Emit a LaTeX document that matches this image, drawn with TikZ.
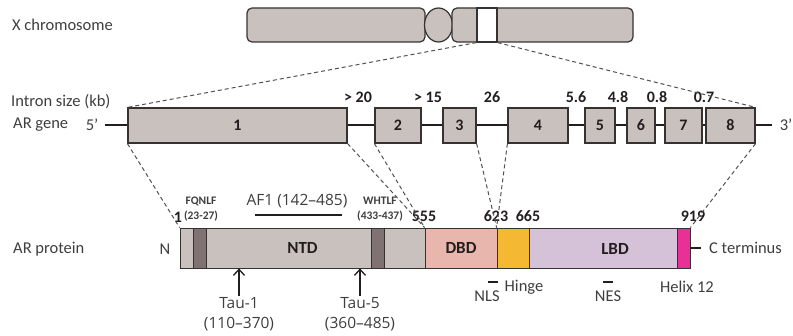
\documentclass[tikz,border=0pt]{standalone}
\usepackage{fontspec}
\setmainfont{Carlito}
\newfontfamily\taufont{Open Sans}
\usepackage{tikz}
\usetikzlibrary{shapes.geometric, arrows.meta, positioning, calc}
\definecolor{chromgrey}{RGB}{201,193,189}
\definecolor{bandgrey}{RGB}{128,114,114}
\definecolor{dbdpink}{RGB}{232,182,172}
\definecolor{hingeorange}{RGB}{245,184,50}
\definecolor{lbdlilac}{RGB}{214,194,216}
\definecolor{helixpink}{RGB}{232,48,150}
\definecolor{txtgrey}{RGB}{62,62,62}
\definecolor{numdark}{RGB}{35,30,30}
\definecolor{edgedark}{RGB}{55,50,50}
\tikzset{
  chrom/.style={rectangle, draw=edgedark, fill=chromgrey,
    rounded corners=5pt, line width=1.2pt, minimum height=34pt, inner sep=0pt},
  exon/.style={rectangle, draw=edgedark, fill=chromgrey,
    line width=1.2pt, minimum height=35pt, inner sep=0pt,
    font=\fontsize{16}{18}\selectfont\bfseries, text=numdark},
  protbox/.style={rectangle, draw=edgedark, line width=0.8pt,
    minimum height=40pt, inner sep=0pt,
    font=\fontsize{17}{19}\selectfont\bfseries, text=numdark},
  lbl/.style={font=\fontsize{16.5}{19}\selectfont, text=txtgrey, inner sep=1pt},
  taulbl/.style={font=\taufont\fontsize{15.5}{20}\selectfont, text=txtgrey,
    align=center, inner sep=1pt},
  num/.style={font=\fontsize{16}{18}\selectfont\bfseries, text=numdark, inner sep=1pt},
  motif/.style={font=\fontsize{11.5}{14.5}\selectfont\bfseries, text=txtgrey,
    align=center, inner sep=1pt},
  link/.style={line width=1pt, color=txtgrey!90, dash pattern=on 4pt off 3pt},
  tauarrow/.style={-{Straight Barb[length=6pt, width=11pt]}, line width=1.3pt, color=numdark},
  markbar/.style={line width=1.6pt, color=numdark}
}
\begin{document}
\begin{tikzpicture}[x=1pt, y=-1pt]
  \useasboundingbox (0,0) rectangle (793,336);

  % Row labels
  \node[lbl, anchor=west] (lchrom) at (11,25) {X chromosome};
  \node[lbl, anchor=west] (lintron) at (10,102) {Intron size (kb)};
  \node[lbl, anchor=west] (lgene) at (12,125) {AR gene};
  \node[lbl, anchor=west] (lprot) at (12,249) {AR protein};

  % X chromosome
  \node[chrom, minimum width=178pt] (parm) at (336,25) {};
  \node[ellipse, draw=edgedark, fill=chromgrey, line width=1.2pt,
    minimum width=28pt, minimum height=34pt, inner sep=0pt] (centro) at (438.5,25) {};
  \node[chrom, minimum width=181pt] (qarm) at (542.5,25) {};
  \node[rectangle, draw=edgedark, fill=white, line width=1.2pt,
    minimum width=20pt, minimum height=34pt, inner sep=0pt] (band) at (487,25) {};

  % AR gene
  \coordinate (g5) at (105,125.5);
  \coordinate (g3) at (772,125.5);
  \draw[line width=2pt, color=numdark] (g5) -- (g3);
  \node[lbl] (five) at (92,125) {5'};
  \node[lbl] (three) at (786,125) {3'};
  \node[exon, minimum width=219pt] (e1) at (237.5,125.5) {1};
  \node[exon, minimum width=46pt] (e2) at (398,125.5) {2};
  \node[exon, minimum width=33pt] (e3) at (459.5,125.5) {3};
  \node[exon, minimum width=60pt] (e4) at (538,125.5) {4};
  \node[exon, minimum width=30pt] (e5) at (600,125.5) {5};
  \node[exon, minimum width=28pt] (e6) at (641,125.5) {6};
  \node[exon, minimum width=37pt] (e7) at (683.5,125.5) {7};
  \node[exon, minimum width=49pt] (e8) at (730.5,125.5) {8};

  % Intron sizes
  \node[num] (i1) at (358,97) {> 20};
  \node[num] (i2) at (428,97) {> 15};
  \node[num] (i3) at (492,97) {26};
  \node[num] (i4) at (576,97) {5.6};
  \node[num] (i5) at (618,97) {4.8};
  \node[num] (i6) at (657,97) {0.8};
  \node[num] (i7) at (704,97) {0.7};

  % AR protein
  \node[protbox, fill=chromgrey, minimum width=245pt] (ntd) at (302.5,248) {NTD};
  \node[protbox, fill=bandgrey, minimum width=13pt] (fqnlf) at (199.5,248) {};
  \node[protbox, fill=bandgrey, minimum width=13pt] (whtlf) at (377.5,248) {};
  \node[protbox, fill=dbdpink, minimum width=72pt] (dbd) at (461,248) {DBD};
  \node[protbox, fill=hingeorange, minimum width=32pt] (hinge) at (513,248) {};
  \node[protbox, fill=lbdlilac, minimum width=148pt] (lbd) at (603,248) {};
  \node[protbox, fill=helixpink, minimum width=13pt] (helix) at (683.5,248) {};
  \node[protbox, draw=none] (lbdtxt) at (615,249) {LBD};
  \node[lbl] (nterm) at (165,249) {N};
  \node[lbl, anchor=west] (cterm) at (708,248) {C terminus};
  \draw[markbar] (helix.east) -- ([xshift=-7pt]cterm.west);

  % Residue numbers
  \node[num] (n1) at (178,217) {1};
  \node[num] (n555) at (424,216) {555};
  \node[num] (n623) at (496,216) {623};
  \node[num] (n665) at (528,216) {665};
  \node[num] (n919) at (693,216) {919};

  % Motifs and regions
  \node[motif] (mfq) at (201,209) {FQNLF\\(23-27)};
  \node[motif] (mwh) at (380,209) {WHTLF\\(433-437)};
  \node[taulbl] (af1) at (297,201) {AF1 (142–485)};
  \draw[line width=2pt, color=numdark] (255,215) -- (342,215);
  \node[taulbl] (tau1) at (239,314) {Tau-1\\(110–370)};
  \node[taulbl] (tau5) at (360,314) {Tau-5\\(360–485)};
  \draw[tauarrow] (tau1.north) -- (tau1 |- ntd.south);
  \draw[tauarrow] (tau5.north) -- (tau5 |- ntd.south);
  \node[lbl] (nls) at (487,296) {NLS};
  \node[lbl] (hingetxt) at (524,287) {Hinge};
  \node[lbl] (nes) at (608,296) {NES};
  \node[lbl] (helixtxt) at (687,287) {Helix 12};
  \draw[markbar] (488,282) -- (498,282);
  \draw[markbar] (603,282) -- (613,282);

  % Dashed links
  \draw[link] (band.south west) -- (e1.north west);
  \draw[link] (band.south east) -- (e8.north east);
  \draw[link] (e1.south west) -- (ntd.north west);
  \draw[link] (e1.south east) -- (dbd.north west);
  \draw[link] (e2.south west) -- (dbd.north west);
  \draw[link] (e3.south east) -- (hinge.north west);
  \draw[link] (e4.south west) -- (hinge.north west);
  \draw[link] (e8.south east) -- (helix.north east);
\end{tikzpicture}
\end{document}
